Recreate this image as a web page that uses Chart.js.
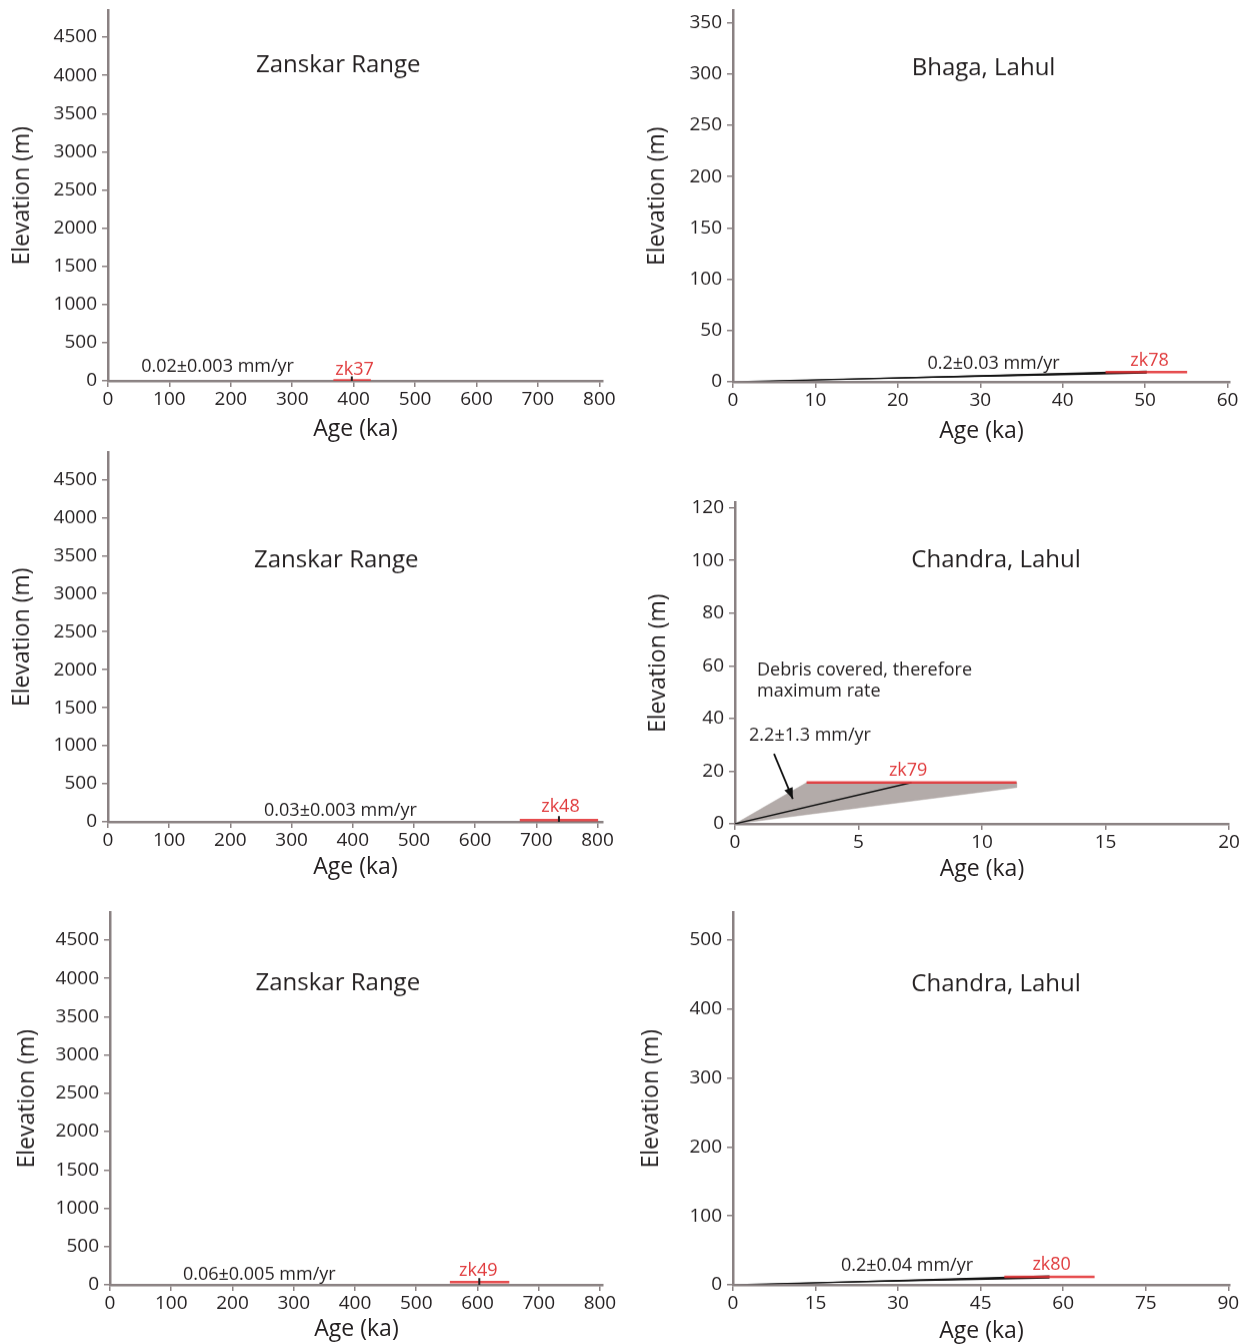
<!DOCTYPE html>
<html>
<head>
<meta charset="utf-8">
<script src="https://cdn.jsdelivr.net/npm/chart.js@4.4.1/dist/chart.umd.min.js"></script>
<style>
  body { margin: 0; background: #fff; width: 1248px; height: 1344px; position: relative; overflow: hidden; }
  .panel { position: absolute; }
</style>
</head>
<body>
<script>
    // tick labels
    const yTicksZanskar = [0, 500, 1000, 1500, 2000, 2500, 3000, 3500, 4000, 4500];
    const xTicksZanskar = [0, 100, 200, 300, 400, 500, 600, 700, 800];
    const yTicksBhaga = [0, 50, 100, 150, 200, 250, 300, 350];
    const xTicksBhaga = [0, 10, 20, 30, 40, 50, 60];
    const yTicksChandraA = [0, 20, 40, 60, 80, 100, 120];
    const xTicksChandraA = [0, 5, 10, 15, 20];
    const yTicksChandraB = [0, 100, 200, 300, 400, 500];
    const xTicksChandraB = [0, 15, 30, 45, 60, 75, 90];

    const yTicks = [yTicksZanskar, yTicksBhaga, yTicksZanskar, yTicksChandraA, yTicksZanskar, yTicksChandraB];
    const xTicks = [xTicksZanskar, xTicksBhaga, xTicksZanskar, xTicksChandraA, xTicksZanskar, xTicksChandraB];
    const xMax = [806, 60.3, 809, 20, 805, 90.3];
    const yMax = [4850, 362, 4855, 122, 4860, 540];

    // samples
    const panelTitles = ['Zanskar Range', 'Bhaga, Lahul', 'Zanskar Range', 'Chandra, Lahul', 'Zanskar Range', 'Chandra, Lahul'];
    const sampleNames = ['zk37', 'zk78', 'zk48', 'zk79', 'zk49', 'zk80'];
    const rateLabels = ['0.02±0.003 mm/yr', '0.2±0.03 mm/yr', '0.03±0.003 mm/yr', '2.2±1.3 mm/yr', '0.06±0.005 mm/yr', '0.2±0.04 mm/yr'];
    const sampleAge  = [397, 50.2, 737, 7.15, 603, 57.5];
    const ageMin     = [367, 45.2, 673, 2.9, 555, 49.3];
    const ageMax     = [428, 55.1, 801, 11.4, 652, 65.7];
    const sampleElev = [8, 9.5, 22, 15.7, 36, 11.5];
    const showTick   = [true, false, true, false, true, false];
    // rate uncertainty wedge, elevation at sample age (low / high rate); too thin to see in the Zanskar panels
    const wedgeLow  = [null, 8.1, null, null, null, 9.2];
    const wedgeHigh = [null, 10.9, null, null, null, 13.8];

    // zk79 debris envelope and arrow
    const debrisAge  = [0, 2.9, 11.4, 11.4, 0];
    const debrisElev = [0, 15.7, 15.7, 13.8, 0];
    const arrowAge  = [1.58, 2.34];
    const arrowElev = [26.6, 9.5];

    // label anchors (data coords)
    const titleAt = [[375, 4133], [30.4, 306], [373, 3434], [10.57, 99.9], [372, 3938], [47.8, 436]];
    const rateAt  = [[54, 184], [23.6, 17.5], [255, 145], [0.57, 33.4], [119, 131], [19.6, 27.6]];
    const nameAt  = [[370, 144], [48.2, 20.5], [708, 197], [6.23, 20.1], [570, 183], [54.4, 29.1]];
    const debrisNote = ['Debris covered, therefore', 'maximum rate'];
    const debrisNoteAt = [[0.89, 58.1], [0.89, 50.1]];

    // page layout (pixels)
    const layout = [
        { axisX: 108, zeroY: 380,  topY: 10,  rightX: 603,  yTitleX: 22,  xTitleY: 428 },
        { axisX: 733, zeroY: 381,  topY: 10,  rightX: 1230, yTitleX: 657, xTitleY: 430 },
        { axisX: 108, zeroY: 821,  topY: 452, rightX: 603,  yTitleX: 22,  xTitleY: 866 },
        { axisX: 735, zeroY: 823,  topY: 502, rightX: 1229, yTitleX: 658, xTitleY: 868 },
        { axisX: 110, zeroY: 1284, topY: 912, rightX: 603,  yTitleX: 27,  xTitleY: 1328 },
        { axisX: 733, zeroY: 1284, topY: 912, rightX: 1230, yTitleX: 651, xTitleY: 1330 }
    ];
    // the rate line hides under the x axis near the origin
    const lineClip = [-4, -1, -4, 0, -4, -1];

    const FONT = '"Open Sans", "Noto Sans", sans-serif';
    const axisColor = '#8a8182';
    const textColor = '#231f20';
    const red = 'rgba(226, 50, 52, 0.88)';
    const redText = '#e03a3c';
    const titleSize = 23;
    const half = titleSize * 1.2 / 2;

    const notesPlugin = {
        id: 'notes',
        afterDatasetsDraw(chart, args, opts) {
            const { ctx, scales: { x, y } } = chart;
            ctx.save();
            (opts.items || []).forEach(n => {
                ctx.font = n.size + 'px ' + FONT;
                ctx.fillStyle = n.color;
                ctx.textAlign = n.align || 'left';
                ctx.textBaseline = 'middle';
                ctx.fillText(n.text, x.getPixelForValue(n.x), y.getPixelForValue(n.y));
            });
            ctx.restore();
        }
    };

    const arrowPlugin = {
        id: 'arrowHead',
        afterDatasetsDraw(chart) {
            const ctx = chart.ctx;
            chart.data.datasets.forEach((ds, k) => {
                if (!ds.arrow) return;
                const pts = chart.getDatasetMeta(k).data;
                const a = pts[pts.length - 2], b = pts[pts.length - 1];
                const ang = Math.atan2(b.y - a.y, b.x - a.x);
                const len = 11, wid = 4.5;
                ctx.save();
                ctx.translate(b.x, b.y);
                ctx.rotate(ang);
                ctx.beginPath();
                ctx.moveTo(0, 0);
                ctx.lineTo(-len, -wid);
                ctx.lineTo(-len, wid);
                ctx.closePath();
                ctx.fillStyle = ds.borderColor;
                ctx.fill();
                ctx.restore();
            });
        }
    };

    function buildDatasets(i) {
        const ds = [];
        const clip = { left: 0, top: 0, right: 0, bottom: lineClip[i] };
        if (showTick[i]) {
            ds.push({
                data: [{ x: sampleAge[i], y: sampleElev[i] }],
                pointStyle: 'line', rotation: 90, pointRadius: 4,
                borderColor: textColor, pointBorderWidth: 2, showLine: false, order: 0
            });
        }
        ds.push({
            data: [{ x: ageMin[i], y: sampleElev[i] }, { x: ageMax[i], y: sampleElev[i] }],
            borderColor: red, borderWidth: 2.5, pointRadius: 0, showLine: true, order: 1
        });
        ds.push({
            data: [{ x: 0, y: 0 }, { x: sampleAge[i], y: sampleElev[i] }],
            borderColor: '#111', borderWidth: 1.3, pointRadius: 0, showLine: true, clip: clip, order: 2
        });
        if (wedgeLow[i] !== null) {
            ds.push({
                data: [{ x: 0, y: 0 }, { x: sampleAge[i], y: wedgeLow[i] }, { x: sampleAge[i], y: wedgeHigh[i] }, { x: 0, y: 0 }],
                backgroundColor: '#111', borderWidth: 0, pointRadius: 0, showLine: true, fill: 'shape', clip: clip, order: 3
            });
        }
        if (i === 3) {
            ds.push({
                data: debrisAge.map((a, k) => ({ x: a, y: debrisElev[k] })),
                backgroundColor: '#b3aba9', borderColor: '#b3aba9', borderWidth: 0.5,
                pointRadius: 0, showLine: true, fill: 'shape', order: 4
            });
            ds.push({
                data: arrowAge.map((a, k) => ({ x: a, y: arrowElev[k] })),
                borderColor: '#111', borderWidth: 1.8, pointRadius: 0, showLine: true, arrow: true, order: 0
            });
        }
        return ds;
    }

    function buildNotes(i) {
        const items = [
            { text: panelTitles[i], x: titleAt[i][0], y: titleAt[i][1], size: 24, color: textColor, align: 'center' },
            { text: rateLabels[i], x: rateAt[i][0], y: rateAt[i][1], size: 18, color: textColor },
            { text: sampleNames[i], x: nameAt[i][0], y: nameAt[i][1], size: 18, color: redText }
        ];
        if (i === 3) {
            debrisNote.forEach((t, k) => items.push({ text: t, x: debrisNoteAt[k][0], y: debrisNoteAt[k][1], size: 18, color: textColor }));
        }
        return items;
    }

    layout.forEach((L, i) => {
        const yAxisW = L.axisX < 400 ? L.axisX : L.axisX - 630;
        const left = L.axisX - yAxisW;
        const xAxisH = L.xTitleY - L.zeroY + half;
        const padTop = 16, padRight = 26;

        const div = document.createElement('div');
        div.className = 'panel';
        div.style.left = left + 'px';
        div.style.top = (L.topY - padTop) + 'px';
        div.style.width = (yAxisW + L.rightX - L.axisX + padRight) + 'px';
        div.style.height = (L.zeroY - L.topY + padTop + xAxisH) + 'px';
        const canvas = document.createElement('canvas');
        div.appendChild(canvas);
        document.body.appendChild(div);

        new Chart(canvas, {
            type: 'scatter',
            data: { datasets: buildDatasets(i) },
            plugins: [notesPlugin, arrowPlugin],
            options: {
                responsive: true,
                maintainAspectRatio: false,
                animation: false,
                layout: { padding: { top: padTop, right: padRight, left: 0, bottom: 0 } },
                plugins: {
                    legend: { display: false },
                    tooltip: { enabled: false },
                    notes: { items: buildNotes(i) }
                },
                scales: {
                    x: {
                        type: 'linear', min: 0, max: xMax[i],
                        afterBuildTicks: s => { s.ticks = xTicks[i].map(v => ({ value: v })); },
                        afterFit: s => { s.height = xAxisH; },
                        grid: { drawOnChartArea: false, drawTicks: true, tickLength: 6, color: axisColor, lineWidth: 1.5 },
                        border: { color: axisColor, width: 2.5 },
                        ticks: { color: textColor, font: { family: FONT, size: 19 }, padding: 1, maxRotation: 0, autoSkip: false, callback: v => v },
                        title: { display: true, text: 'Age (ka)', color: textColor, font: { family: FONT, size: titleSize }, padding: { top: 0, bottom: 0 } }
                    },
                    y: {
                        type: 'linear', min: 0, max: yMax[i],
                        afterBuildTicks: s => { s.ticks = yTicks[i].map(v => ({ value: v })); },
                        afterFit: s => { s.width = yAxisW; },
                        grid: { drawOnChartArea: false, drawTicks: true, tickLength: 6, color: axisColor, lineWidth: 1.5 },
                        border: { color: axisColor, width: 2.5 },
                        ticks: { color: textColor, font: { family: FONT, size: 19 }, padding: 5, autoSkip: false, callback: v => v },
                        title: { display: true, text: 'Elevation (m)', color: textColor, font: { family: FONT, size: titleSize }, padding: { top: L.yTitleX - left - half, bottom: 0 } }
                    }
                }
            }
        });
    });
</script>
</body>
</html>
